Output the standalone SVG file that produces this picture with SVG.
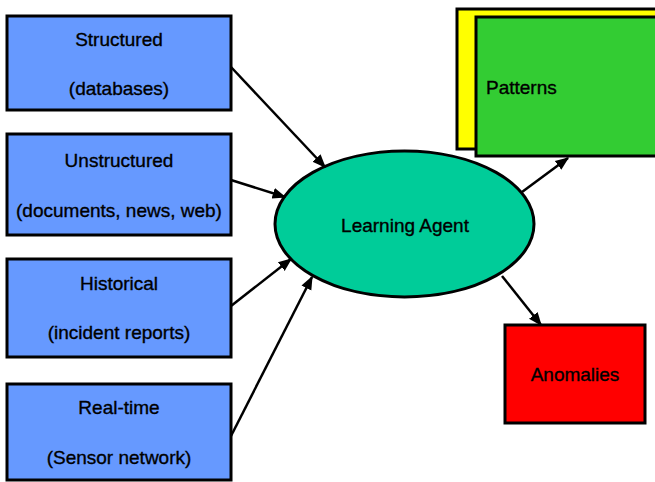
<svg xmlns="http://www.w3.org/2000/svg" width="655" height="482" viewBox="0 0 655 482">
<style>
.src{fill:#6699FF;stroke:#000;stroke-width:3}
text{font-family:"Liberation Sans",Arial,sans-serif;font-size:19px;fill:#000;stroke:#000;stroke-width:0.35;text-anchor:middle}
.c line{stroke:#000;stroke-width:2.5}
</style>
<defs>
<marker id="ah" viewBox="0 0 10 10" refX="9" refY="5" markerWidth="5.5" markerHeight="5.5" orient="auto" markerUnits="strokeWidth">
<path d="M0,1 L10,5 L0,9 z" fill="#000"/>
</marker>
</defs>
<rect width="655" height="482" fill="#fff"/>
<g id="structured">
<rect class="src" x="7" y="16" width="224" height="94"/>
<text x="119" y="46">Structured</text>
<text x="119" y="95">(databases)</text>
</g>
<g id="unstructured">
<rect class="src" x="7" y="134" width="224" height="101"/>
<text x="119" y="167">Unstructured</text>
<text x="119" y="217">(documents, news, web)</text>
</g>
<g id="historical">
<rect class="src" x="7" y="259" width="224" height="98"/>
<text x="119" y="290">Historical</text>
<text x="119" y="339">(incident reports)</text>
</g>
<g id="realtime">
<rect class="src" x="7" y="384" width="224" height="96"/>
<text x="119" y="414">Real-time</text>
<text x="119" y="464">(Sensor network)</text>
</g>
<g id="agent">
<ellipse cx="404.5" cy="224" rx="129.5" ry="73" fill="#00CC99" stroke="#000" stroke-width="3"/>
<text x="405" y="232">Learning Agent</text>
</g>
<g id="patterns">
<rect x="457" y="9" width="205" height="140" fill="#FFFF00" stroke="#000" stroke-width="3"/>
<rect x="476" y="17" width="186" height="139" fill="#33CC33" stroke="#000" stroke-width="3"/>
<text x="486" y="94" style="text-anchor:start">Patterns</text>
</g>
<g id="anomalies">
<rect x="505" y="325" width="140" height="98" fill="#FF0000" stroke="#000" stroke-width="3"/>
<text x="575" y="381">Anomalies</text>
</g>
<g class="c" id="connectors">
<line x1="231" y1="67" x2="325" y2="167" marker-end="url(#ah)"/>
<line x1="231" y1="180" x2="285" y2="197" marker-end="url(#ah)"/>
<line x1="231" y1="306" x2="291" y2="259" marker-end="url(#ah)"/>
<line x1="231" y1="436" x2="312" y2="277" marker-end="url(#ah)"/>
<line x1="522" y1="192" x2="568" y2="158" marker-end="url(#ah)"/>
<line x1="502" y1="276" x2="541" y2="325" marker-end="url(#ah)"/>
</g>
</svg>
